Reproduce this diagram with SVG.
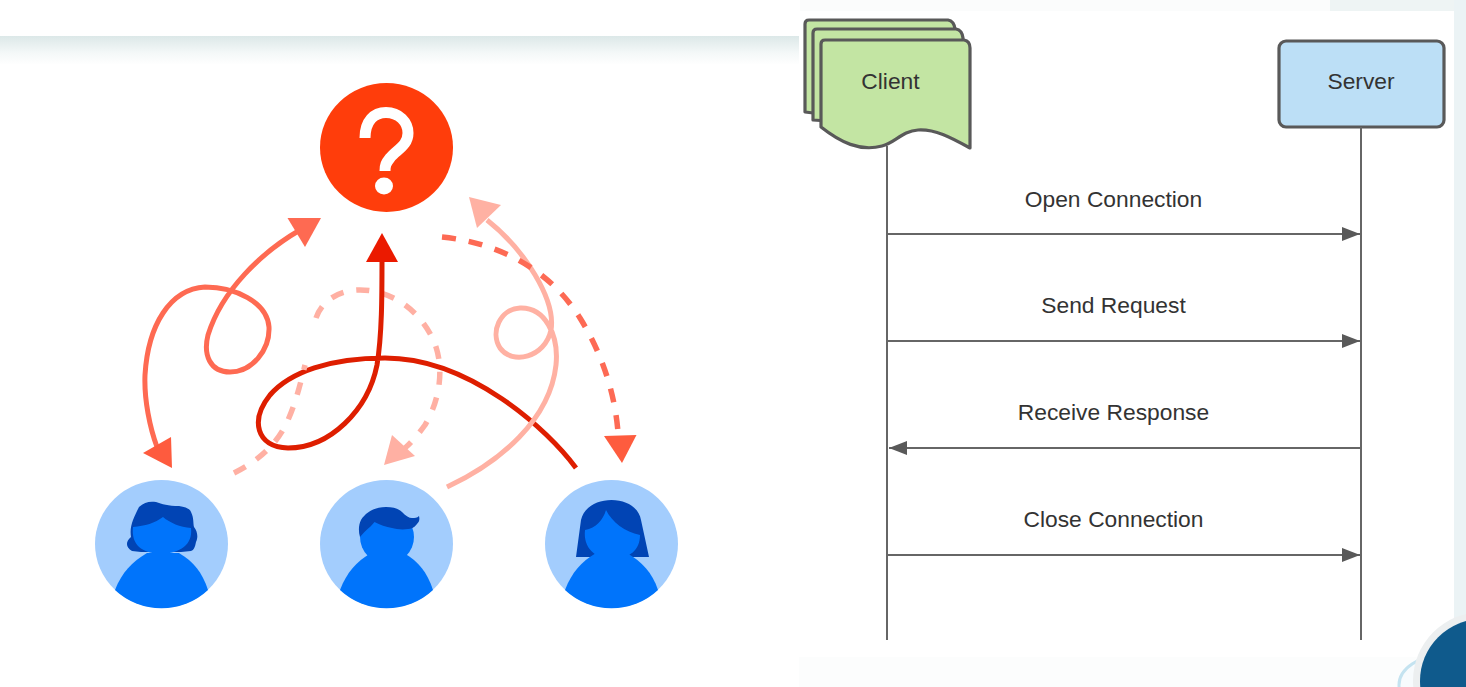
<svg xmlns="http://www.w3.org/2000/svg" width="1466" height="687" viewBox="0 0 1466 687">
<defs>
<linearGradient id="band" x1="0" y1="0" x2="0" y2="1"><stop offset="0" stop-color="#dce8e8"/><stop offset="0.6" stop-color="#f4f8f8"/><stop offset="1" stop-color="#fefefe"/></linearGradient>
<marker id="seq" viewBox="0 0 18 14" refX="18" refY="7" markerWidth="18" markerHeight="14" markerUnits="userSpaceOnUse" orient="auto"><path d="M0 0L18 7L0 14Z" fill="#595959"/></marker>
</defs>
<style>
text{font-family:"Liberation Sans",Arial,sans-serif;font-size:22.8px;fill:#333;text-anchor:middle}
.life,.msg{fill:none;stroke:#666;stroke-width:2}
.msg{marker-end:url(#seq)}
.doc{fill:#c3e5a3;stroke:#595959;stroke-width:3.2;stroke-linejoin:round}
.curve{fill:none;stroke-linecap:butt;stroke-width:5}
.dash{stroke-width:5.500}
.bg{fill:#a3cdfd}.body{fill:#0074fb}.hair{fill:#0144b4}
</style>
<rect width="1466" height="687" fill="#fff"/>
<rect x="0" y="36" width="800" height="28" fill="url(#band)"/>
<rect x="800" y="0" width="530" height="11" fill="#fbfcfc"/>
<rect x="1330" y="0" width="136" height="11" fill="#eef4f4"/>
<rect x="1454" y="0" width="12" height="620" fill="#ebf3f5"/>
<rect x="799" y="657" width="655" height="30" fill="#fcfdfd"/>
<rect x="799" y="11" width="655" height="646" fill="#fff"/>

<g id="question">
<ellipse cx="386.500" cy="147.500" rx="66.500" ry="64.500" fill="#ff3d0b"/>
<path d="M365 138C365 121 374 112.500 386 112.500C399 112.500 408 122 408 133C408 146 396 150 390 158C386 163 385 165 385 171" fill="none" stroke="#fff" stroke-width="11"/>
<ellipse cx="384" cy="186" rx="9" ry="8.500" fill="#fff"/>
</g>

<g id="user-1">
<ellipse class="bg" cx="161.500" cy="544" rx="66.500" ry="64"/>
<path class="hair" d="M139 507C144 502 150 501 156 502C162 504 168 506 179 506C186 507 190 509 191 512C194 518 193 523 194 527C198 532 198 538 196 542C195 547 194 550 191 551L181 552L141 552L132 551C126 548 125 542 131 537C130 530 131 526 133 520C135 515 137 511 139 507Z"/>
<path class="body" d="M133 527C145 526 155 523 163 517C170 523 180 527 191 528C193 545 180 553 161 554C142 553 131 545 133 527Z"/>
<path class="body" d="M115 590C122 572 132 562 147 553L179 553C194 562 202 572 208 590A66.500 64 0 0 1 115 590Z"/>
</g>

<g id="user-2">
<ellipse class="bg" cx="386.500" cy="544" rx="66.500" ry="64"/>
<circle class="body" cx="387" cy="537" r="27"/>
<path class="hair" d="M360 537C358 530 359 524 361 520C366 512 375 507 386 507C394 507 399 509 402 512C406 516 409 518 412 518C415 518 417 518 419 516C420 520 419 522 417 524C414 528 411 529 408 529C402 530 396 529 392 528C386 527 380 525 374.500 522C372 525 369 528 366.500 530C364 532 362 535 360 537Z"/>
<path class="body" d="M340 590C347 572 356 562 371 553L404 553C419 562 427 572 433 590A66.500 64 0 0 1 340 590Z"/>
</g>

<g id="user-3">
<ellipse class="bg" cx="611.500" cy="544" rx="66.500" ry="64"/>
<path class="hair" d="M576 557L581 520C584 507 597 500 611.500 500C627 500 639 508 641 520L649 557Z"/>
<path class="body" d="M585 530C596 528 603 520 606 510C612 522 625 532 640 535C640 550 630 558 612 560C595 558 583 548 585 530Z"/>
<path class="body" d="M565 590C572 572 581 562 596 553L627 553C642 562 652 572 658 590A66.500 64 0 0 1 565 590Z"/>
</g>

<g id="connectors">
<path class="curve dash" stroke="#ffb0a3" stroke-dasharray="13 13" d="M316 318C322 300 340 290 360 290C395 290 425 315 436 347C445 375 437 405 425 425C420 432 412 442 405 448"/>
<path d="M384 465L392 435L415 456Z" fill="#ffb0a3"/>

<path class="curve" stroke="#fe6a52" d="M300 230C262 252 222 290 208 335C203 355 210 372 230 372C252 372 270 350 269 327C267 302 235 287 205 287C170 289 148 325 145 375C144 400 150 428 157 447"/>
<path d="M321 218L287.500 218L305 247Z" fill="#fe6a52"/>
<path d="M172 468L143 453L171 437Z" fill="#fe5b3e"/>

<path class="curve" stroke="#de1e00" stroke-width="5.500" d="M576 468C548 430 470 358 385 358C330 358 290 372 270 395C250 420 256 447 288 448C330 448 368 410 377 365C382 335 382 295 382 258"/>
<path d="M382 233L398 262L366 262Z" fill="#eb1a00"/>

<path class="curve" stroke="#ffb1a3" d="M447 487C500 462 550 420 556 365C559 335 545 307 520 308C500 309 490 332 500 348C512 365 545 358 551 330C556 300 525 250 487 220"/>
<path d="M469 197L501 205L477 228Z" fill="#ffb1a3"/>

<path class="curve dash" stroke="#fd6a54" stroke-dasharray="14 13" d="M442 237C500 243 550 270 580 318C603 355 615 395 618 432"/>
<path d="M622 463L604 436L636.500 435Z" fill="#fe5c3e"/>

<path class="curve dash" stroke="#ffb0a3" stroke-dasharray="13 13" d="M234 473C260 460 278 443 288 420C296 402 300 385 305 365"/>
</g>

<g id="client">
<path class="doc" d="M805 24Q805 20 809 20L948 20Q954 21 955 29L955 130L805 112Z"/>
<path class="doc" d="M813 33Q813 29 817 29L956 29Q962 30 963 38L963 130L813 120Z"/>
<path class="doc" d="M821 44Q821 40 825 40L964 40Q970 41 970 48L970 148C950 137 935 129 918 130C902 131 895 143 882 146C860 152 840 142 821 127Z"/>
<text x="890.500" y="89">Client</text>
</g>

<g id="server">
<rect x="1279" y="41" width="165" height="86" rx="7" fill="#bcdff6" stroke="#595959" stroke-width="3.200"/>
<text x="1361" y="89">Server</text>
</g>

<g id="sequence">
<path class="life" d="M887 146V640M1361 127V640"/>
<path class="msg" d="M888 234H1360"/>
<path class="msg" d="M888 341H1360"/>
<path class="msg" d="M1361 448H889"/>
<path class="msg" d="M888 555H1360"/>
<text x="1113.500" y="206.500">Open Connection</text>
<text x="1113.500" y="313">Send Request</text>
<text x="1113.500" y="420">Receive Response</text>
<text x="1113.500" y="527">Close Connection</text>
</g>

<g id="logo">
<ellipse cx="1445" cy="685" rx="46" ry="30" fill="#f7fbfd" stroke="#c4e3f0" stroke-width="3"/>
<circle cx="1482" cy="681" r="69" fill="#eceff0"/>
<circle cx="1482" cy="681" r="62" fill="#0f5a8c"/>
</g>
</svg>
